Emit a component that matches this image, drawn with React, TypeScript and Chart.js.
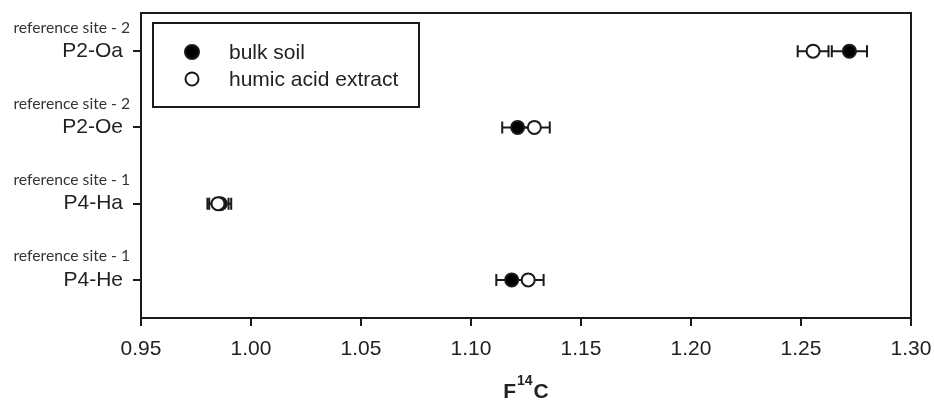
import React, { useEffect, useRef } from "react";
import { Chart, registerables } from "chart.js";

Chart.register(...registerables);

const categories = ["P2-Oa", "P2-Oe", "P4-Ha", "P4-He"];
const siteLabels = ["reference site - 2", "reference site - 2", "reference site - 1", "reference site - 1"];
const bulkValues = [1.272, 1.1212, 0.986, 1.1185];
const bulkErrors = [0.008, 0.007, 0.005, 0.007];
const humicValues = [1.2555, 1.1288, 0.985, 1.126];
const humicErrors = [0.007, 0.007, 0.0048, 0.007];
const xMin = 0.95;
const xMax = 1.3;
const xStep = 0.05;
const legendLabels = ["bulk soil", "humic acid extract"];

const INK = "#1a1a1a";
const TEXT = "#222222";
const SANS = "'Liberation Sans', Arial, sans-serif";

const errorBarPlugin = {
  id: "errorBars",
  beforeDatasetsDraw(chart: any) {
    const ctx = chart.ctx;
    const xs = chart.scales.x;
    const ys = chart.scales.y;
    const sets = [
      { v: bulkValues, e: bulkErrors },
      { v: humicValues, e: humicErrors },
    ];
    ctx.save();
    ctx.strokeStyle = INK;
    ctx.lineWidth = 2;
    sets.forEach((s) => {
      s.v.forEach((val, i) => {
        const y = ys.getPixelForValue(i);
        const x1 = xs.getPixelForValue(val - s.e[i]);
        const x2 = xs.getPixelForValue(val + s.e[i]);
        ctx.beginPath();
        ctx.moveTo(x1, y);
        ctx.lineTo(x2, y);
        ctx.moveTo(x1, y - 6);
        ctx.lineTo(x1, y + 6);
        ctx.moveTo(x2, y - 6);
        ctx.lineTo(x2, y + 6);
        ctx.stroke();
      });
    });
    ctx.restore();
  },
};

const decorPlugin = {
  id: "decor",
  afterDraw(chart: any) {
    const ctx = chart.ctx;
    const a = chart.chartArea;
    const ys = chart.scales.y;
    ctx.save();
    // plot frame
    ctx.strokeStyle = INK;
    ctx.lineWidth = 2;
    ctx.strokeRect(a.left, a.top, a.right - a.left, a.bottom - a.top);

    // site labels
    ctx.fillStyle = "#333333";
    ctx.font = "15.7px Lato, 'Open Sans', sans-serif";
    ctx.textAlign = "right";
    ctx.textBaseline = "middle";
    siteLabels.forEach((t, i) => {
      const y = ys.getPixelForValue(i);
      ctx.fillText(t, 130, y - 23.5);
    });

    // legend box
    const lx = 153, ly = 23, lw = 266, lh = 84;
    ctx.lineWidth = 2;
    ctx.strokeStyle = INK;
    ctx.fillStyle = "#ffffff";
    ctx.fillRect(lx, ly, lw, lh);
    ctx.strokeRect(lx, ly, lw, lh);
    const rows = [52, 79];
    ctx.font = "21px " + SANS;
    ctx.textAlign = "left";
    ctx.textBaseline = "middle";
    rows.forEach((ry, i) => {
      ctx.beginPath();
      ctx.arc(192, ry, i === 0 ? 7 : 6.5, 0, Math.PI * 2);
      ctx.fillStyle = i === 0 ? "#000000" : "#ffffff";
      ctx.fill();
      ctx.lineWidth = 2;
      ctx.strokeStyle = INK;
      ctx.stroke();
      ctx.fillStyle = TEXT;
      ctx.fillText(legendLabels[i], 229, ry + 1);
    });

    // axis title F14C
    const big = "bold 21px " + SANS;
    const small = "bold 14px " + SANS;
    ctx.font = big;
    const wF = ctx.measureText("F").width;
    const wC = ctx.measureText("C").width;
    ctx.font = small;
    const w14 = ctx.measureText("14").width;
    const total = wF + w14 + wC + 2;
    const cx = (a.left + a.right) / 2;
    let x = cx - total / 2;
    const base = 398;
    ctx.textBaseline = "alphabetic";
    ctx.fillStyle = TEXT;
    ctx.font = big;
    ctx.fillText("F", x, base);
    x += wF + 1;
    ctx.font = small;
    ctx.fillText("14", x, base - 13);
    x += w14 + 1;
    ctx.font = big;
    ctx.fillText("C", x, base);
    ctx.restore();
  },
};

export default function App() {
  const ref = useRef<HTMLCanvasElement | null>(null);
  useEffect(() => {
    if (!ref.current) return;
    const chart = new Chart(ref.current, {
      type: "scatter",
      data: {
        datasets: [
          {
            label: legendLabels[0],
            data: bulkValues.map((v, i) => ({ x: v, y: categories[i] })),
            pointRadius: 6.5,
            pointBorderWidth: 2,
            pointBackgroundColor: "#000000",
            pointBorderColor: INK,
            order: 2,
          },
          {
            label: legendLabels[1],
            data: humicValues.map((v, i) => ({ x: v, y: categories[i] })),
            pointRadius: 6.5,
            pointBorderWidth: 2,
            pointBackgroundColor: "#ffffff",
            pointBorderColor: INK,
            order: 1,
          },
        ] as any,
      },
      plugins: [errorBarPlugin, decorPlugin],
      options: {
        responsive: false,
        animation: false,
        layout: { padding: { left: 0, top: 13, right: 23, bottom: 0 } },
        plugins: { legend: { display: false }, tooltip: { enabled: false } },
        scales: {
          x: {
            type: "linear",
            min: xMin,
            max: xMax,
            afterFit(scale: any) {
              scale.height = 83;
              scale.paddingLeft = 0;
              scale.paddingRight = 0;
            },
            border: { display: false },
            grid: { drawOnChartArea: false, drawTicks: true, tickLength: 8, color: INK, lineWidth: 2 },
            ticks: {
              stepSize: xStep,
              padding: 11,
              color: TEXT,
              font: { family: SANS, size: 21 },
              callback: (v: any) => Number(v).toFixed(2),
            },
          },
          y: {
            type: "category",
            labels: categories,
            offset: true,
            afterFit(scale: any) {
              scale.width = 141;
              scale.paddingTop = 0;
              scale.paddingBottom = 0;
            },
            border: { display: false },
            grid: { offset: false, drawOnChartArea: false, drawTicks: true, tickLength: 8, color: INK, lineWidth: 2 },
            ticks: {
              padding: 10,
              color: TEXT,
              font: { family: SANS, size: 21 },
            },
          },
        } as any,
      },
    });
    return () => chart.destroy();
  }, []);
  return (
    <div style={{ position: "fixed", left: 0, top: 0, width: 934, height: 401, background: "#fff" }}>
      <canvas ref={ref} width={934} height={401} style={{ width: 934, height: 401, display: "block" }} />
    </div>
  );
}
